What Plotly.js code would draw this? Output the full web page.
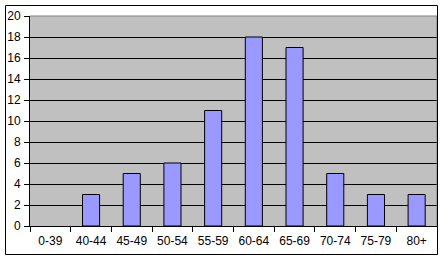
<!DOCTYPE html>
<html><head><meta charset="utf-8">
<script src="https://cdn.plot.ly/plotly-3.0.1.min.js"></script>
<style>html,body{margin:0;padding:0;background:#fff}#c{width:443px;height:260px}</style>
</head><body><div id="c"></div>
<script>
const categories = ["0-39","40-44","45-49","50-54","55-59","60-64","65-69","70-74","75-79","80+"];
const counts = [0,3,5,6,11,18,17,5,3,3];
const yTicks = [0,2,4,6,8,10,12,14,16,18,20];

const W = 443, H = 260;
const m = {l:30, r:6, t:16, b:34};
const pw = W - m.l - m.r, ph = H - m.t - m.b;
const px = v => (v - m.l) / pw;
const py = v => (H - m.b - v) / ph;

const trace = {
  type:'bar', x:categories, y:counts, width:0.42,
  marker:{color:'#9999FF', line:{color:'#000', width:counts.map(v => v > 0 ? 1 : 0)}},
  hoverinfo:'none'
};
const layout = {
  width:W, height:H, margin:m,
  paper_bgcolor:'#fff', plot_bgcolor:'#C0C0C0',
  font:{family:'"Liberation Sans", Arial, sans-serif', size:12, color:'#000'},
  showlegend:false,
  xaxis:{type:'category', tickson:'boundaries', ticks:'outside', ticklen:5, tickcolor:'#000',
         ticklabelstandoff:4,
         showline:true, linecolor:'#000', linewidth:1, showgrid:false, fixedrange:true},
  yaxis:{range:[0,20], tickvals:yTicks, ticks:'outside', ticklen:5, tickcolor:'#000',
         ticklabelstandoff:1,
         showline:true, linecolor:'#000', linewidth:1, showgrid:true, gridcolor:'#000', gridwidth:1,
         zeroline:false, fixedrange:true},
  shapes:[
    {type:'line', xref:'paper', yref:'paper', x0:0, x1:1, y0:1, y1:1, line:{color:'#808080', width:1}},
    {type:'line', xref:'paper', yref:'paper', x0:1, x1:1, y0:0, y1:1, line:{color:'#808080', width:1}},
    {type:'rect', xref:'paper', yref:'paper', x0:px(5.5), x1:px(437.5), y0:py(5.5), y1:py(254.5),
     line:{color:'#000', width:1}, layer:'above'}
  ]
};
Plotly.newPlot('c', [trace], layout, {displayModeBar:false, staticPlot:true});
</script></body></html>
